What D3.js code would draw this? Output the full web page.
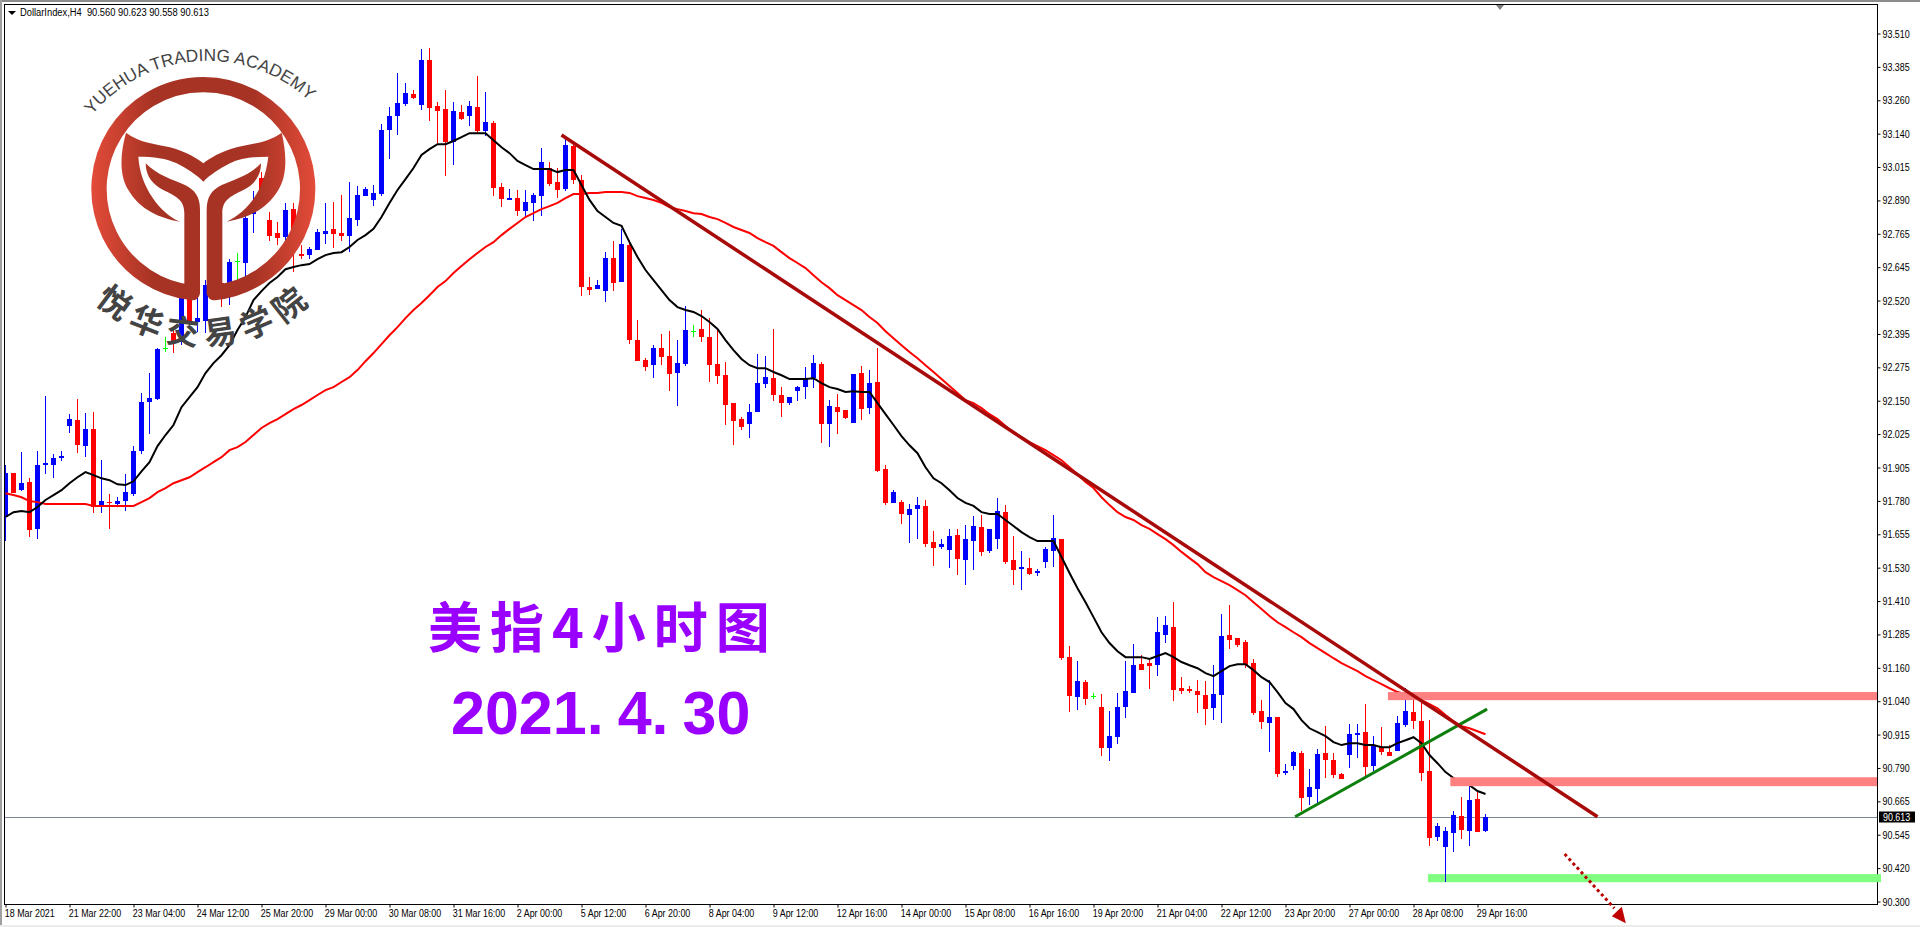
<!DOCTYPE html>
<html>
<head>
<meta charset="utf-8">
<title>DollarIndex H4</title>
<script src="https://cdn.jsdelivr.net/npm/d3@7/dist/d3.min.js"></script>
<style>
  html, body { margin: 0; padding: 0; background: #fff; overflow: hidden; }
  svg { display: block; }
  .axis text { font-family: "Liberation Sans", sans-serif; font-size: 11px; fill: #000; }
</style>
</head>
<body>
<div id="my_dataviz"></div>
<script>
var width = 1920, height = 927;

var chartTitle = "DollarIndex,H4  90.560 90.623 90.558 90.613";
var lastPrice = 90.613;

var priceLabels = ["93.510","93.385","93.260","93.140","93.015","92.890","92.765","92.645","92.520","92.395","92.275","92.150","92.025","91.905","91.780","91.655","91.530","91.410","91.285","91.160","91.040","90.915","90.790","90.665","90.545","90.420","90.300"];

var timeLabels = ["18 Mar 2021","21 Mar 22:00","23 Mar 04:00","24 Mar 12:00","25 Mar 20:00","29 Mar 00:00","30 Mar 08:00","31 Mar 16:00","2 Apr 00:00","5 Apr 12:00","6 Apr 20:00","8 Apr 04:00","9 Apr 12:00","12 Apr 16:00","14 Apr 00:00","15 Apr 08:00","16 Apr 16:00","19 Apr 20:00","21 Apr 04:00","22 Apr 12:00","23 Apr 20:00","27 Apr 00:00","28 Apr 08:00","29 Apr 16:00"];

var opens = [
91.722,91.884,91.821,91.851,91.678,91.914,91.914,91.939,92.058,92.080,
91.984,92.047,91.759,91.777,91.770,91.781,91.806,91.965,92.147,92.158,
92.346,92.402,92.369,92.531,92.443,92.446,92.602,92.587,92.580,92.668,
92.661,92.842,92.975,92.820,92.772,92.757,92.861,92.694,92.690,92.709,
92.768,92.787,92.772,92.761,92.820,92.908,92.894,92.916,93.152,93.204,
93.248,93.285,93.245,93.411,93.241,93.230,93.108,93.219,93.204,93.237,
93.149,93.178,92.942,92.894,92.901,92.853,92.883,92.908,93.012,92.960,
92.934,93.093,92.968,92.572,92.565,92.557,92.679,92.590,92.727,92.376,
92.302,92.283,92.346,92.317,92.254,92.287,92.409,92.417,92.387,92.287,
92.246,92.143,92.084,92.066,92.110,92.213,92.235,92.173,92.143,92.187,
92.202,92.235,92.287,92.066,92.128,92.117,92.069,92.254,92.125,92.221,
91.899,91.774,91.777,91.729,91.751,91.763,91.630,91.611,91.600,91.656,
91.563,91.633,91.685,91.596,91.640,91.740,91.563,91.530,91.534,91.515,
91.556,91.596,91.640,91.204,91.056,91.111,91.060,91.019,90.867,90.908,
91.019,91.071,91.178,91.182,91.174,91.285,91.315,91.089,91.086,91.078,
91.063,91.015,91.063,91.285,91.274,91.260,91.182,91.004,90.960,90.982,
90.775,90.801,90.849,90.686,90.716,90.849,90.823,90.771,90.841,90.915,
90.926,90.801,90.871,90.853,90.856,90.952,91.000,90.967,90.782,90.538,
90.501,90.553,90.616,90.560,90.679,90.560];

var highs = [
91.914,91.884,91.962,91.865,91.965,92.169,91.954,91.965,92.102,92.158,
92.106,92.110,91.932,91.806,91.795,91.880,91.984,92.180,92.254,92.346,
92.387,92.420,92.561,92.553,92.561,92.598,92.635,92.605,92.675,92.698,
92.857,92.927,92.997,92.849,92.812,92.883,92.883,92.727,92.720,92.787,
92.883,92.886,92.912,92.960,92.945,92.942,92.949,93.174,93.237,93.363,
93.326,93.300,93.452,93.456,93.256,93.300,93.256,93.245,93.260,93.352,
93.293,93.186,92.956,92.934,92.931,92.931,92.920,93.086,93.034,93.012,
93.119,93.104,92.986,92.609,92.598,92.701,92.742,92.787,92.746,92.450,
92.309,92.357,92.398,92.409,92.376,92.502,92.431,92.487,92.457,92.413,
92.295,92.143,92.091,92.139,92.324,92.317,92.417,92.202,92.165,92.206,
92.276,92.320,92.295,92.154,92.176,92.117,92.250,92.280,92.265,92.346,
91.914,91.821,91.785,91.770,91.795,91.785,91.670,91.640,91.678,91.678,
91.692,91.726,91.729,91.678,91.792,91.766,91.652,91.596,91.570,91.530,
91.611,91.729,91.640,91.245,91.189,91.119,91.071,91.067,91.004,91.071,
91.189,91.252,91.211,91.193,91.352,91.356,91.407,91.130,91.097,91.119,
91.115,91.174,91.363,91.396,91.274,91.267,91.197,91.045,91.119,90.982,
90.808,90.856,90.856,90.790,90.864,90.949,90.849,90.775,90.956,90.956,
91.030,90.912,90.945,90.879,90.986,91.089,91.045,91.052,90.971,90.590,
90.575,90.634,90.686,90.756,90.705,90.623];

var lows = [
91.633,91.810,91.817,91.648,91.640,91.880,91.865,91.928,92.032,91.958,
91.943,91.737,91.737,91.678,91.763,91.744,91.799,91.954,92.028,92.154,
92.331,92.328,92.357,92.424,92.406,92.402,92.542,92.498,92.505,92.598,
92.598,92.772,92.901,92.742,92.727,92.738,92.627,92.675,92.675,92.709,
92.731,92.716,92.742,92.701,92.798,92.908,92.872,92.908,93.045,93.134,
93.241,93.267,93.226,93.185,93.100,92.982,93.023,93.189,93.167,93.141,
93.130,92.908,92.868,92.894,92.834,92.831,92.816,92.834,92.945,92.901,
92.927,92.953,92.539,92.542,92.565,92.517,92.557,92.590,92.361,92.298,
92.261,92.235,92.283,92.187,92.132,92.280,92.387,92.369,92.221,92.213,
92.062,91.987,92.043,92.014,92.110,92.198,92.151,92.091,92.136,92.151,
92.158,92.198,91.995,91.980,92.028,92.084,92.069,92.080,92.102,91.888,
91.766,91.774,91.696,91.626,91.640,91.611,91.541,91.604,91.534,91.508,
91.471,91.526,91.578,91.589,91.604,91.548,91.471,91.452,91.508,91.504,
91.534,91.537,91.193,91.000,91.008,91.026,91.049,90.838,90.819,90.882,
90.978,91.071,91.156,91.086,91.134,91.256,91.041,91.067,91.071,90.997,
90.952,90.971,90.960,91.234,91.241,91.163,90.989,90.938,90.853,90.760,
90.768,90.786,90.635,90.657,90.664,90.757,90.757,90.753,90.793,90.830,
90.764,90.782,90.841,90.838,90.856,90.945,90.938,90.745,90.505,90.523,
90.372,90.483,90.531,90.505,90.557,90.558];

var closes = [
91.885,91.810,91.847,91.674,91.914,91.921,91.939,91.947,92.084,91.987,
92.047,91.759,91.781,91.774,91.781,91.814,91.965,92.147,92.162,92.343,
92.346,92.365,92.531,92.439,92.457,92.580,92.572,92.550,92.664,92.668,
92.827,92.857,92.923,92.761,92.753,92.857,92.735,92.687,92.713,92.775,
92.779,92.768,92.761,92.827,92.912,92.934,92.920,93.152,93.204,93.252,
93.289,93.270,93.411,93.234,93.223,93.108,93.223,93.193,93.241,93.149,
93.182,92.938,92.897,92.901,92.853,92.886,92.912,93.034,92.953,92.931,
93.097,92.968,92.572,92.561,92.580,92.679,92.587,92.731,92.376,92.298,
92.276,92.346,92.313,92.250,92.291,92.413,92.409,92.387,92.283,92.243,
92.136,92.077,92.054,92.110,92.217,92.239,92.173,92.143,92.165,92.202,
92.232,92.291,92.066,92.132,92.110,92.088,92.250,92.121,92.217,91.891,
91.774,91.814,91.733,91.751,91.766,91.622,91.608,91.622,91.652,91.567,
91.640,91.689,91.593,91.678,91.744,91.556,91.526,91.537,91.511,91.522,
91.604,91.644,91.200,91.060,91.115,91.049,91.060,90.867,90.912,91.019,
91.078,91.174,91.156,91.171,91.296,91.322,91.082,91.078,91.078,91.063,
91.012,91.067,91.282,91.267,91.248,91.174,90.997,90.964,90.982,90.771,
90.782,90.853,90.683,90.723,90.845,90.823,90.768,90.753,90.919,90.923,
90.797,90.879,90.853,90.838,90.960,91.004,90.967,90.775,90.534,90.579,
90.560,90.620,90.564,90.675,90.557,90.613];

var maFast = [
91.722,91.740,91.744,91.740,91.759,91.785,91.803,91.821,91.847,91.869,
91.888,91.877,91.865,91.858,91.843,91.840,91.854,91.891,91.925,91.984,
92.025,92.062,92.128,92.165,92.202,92.254,92.291,92.320,92.357,92.413,
92.461,92.524,92.557,92.587,92.609,92.638,92.646,92.653,92.657,92.675,
92.690,92.698,92.701,92.720,92.746,92.764,92.787,92.831,92.883,92.931,
92.971,93.012,93.060,93.082,93.100,93.100,93.112,93.126,93.141,93.141,
93.141,93.115,93.089,93.067,93.038,93.023,93.008,93.008,93.008,92.997,
93.005,93.005,92.949,92.894,92.853,92.831,92.809,92.798,92.738,92.683,
92.635,92.598,92.561,92.524,92.498,92.487,92.480,92.465,92.443,92.417,
92.376,92.339,92.306,92.283,92.272,92.272,92.258,92.246,92.232,92.232,
92.232,92.235,92.217,92.202,92.195,92.184,92.187,92.184,92.184,92.143,
92.102,92.062,92.021,91.987,91.958,91.906,91.865,91.847,91.821,91.792,
91.774,91.763,91.740,91.733,91.733,91.711,91.689,91.666,91.648,91.633,
91.633,91.633,91.574,91.515,91.459,91.407,91.352,91.296,91.256,91.226,
91.204,91.204,91.204,91.197,91.208,91.219,91.204,91.186,91.174,91.163,
91.145,91.134,91.152,91.171,91.178,91.178,91.156,91.130,91.112,91.075,
91.034,91.012,90.971,90.941,90.927,90.912,90.890,90.879,90.886,90.886,
90.879,90.879,90.871,90.871,90.886,90.897,90.908,90.886,90.842,90.812,
90.779,90.757,90.735,90.731,90.709,90.698];

var maSlow = [
91.810,91.803,91.795,91.781,91.777,91.770,91.770,91.770,91.770,91.770,
91.770,91.763,91.763,91.763,91.763,91.763,91.763,91.777,91.792,91.814,
91.829,91.847,91.858,91.869,91.888,91.906,91.925,91.943,91.969,91.980,
91.999,92.025,92.051,92.069,92.084,92.102,92.121,92.136,92.154,92.173,
92.191,92.202,92.221,92.239,92.265,92.298,92.328,92.361,92.394,92.424,
92.457,92.487,92.513,92.542,92.572,92.594,92.624,92.650,92.675,92.698,
92.720,92.738,92.764,92.787,92.809,92.831,92.845,92.860,92.871,92.883,
92.901,92.916,92.916,92.920,92.920,92.923,92.923,92.923,92.920,92.908,
92.901,92.894,92.883,92.868,92.860,92.853,92.845,92.842,92.831,92.823,
92.809,92.794,92.783,92.772,92.753,92.738,92.724,92.701,92.679,92.661,
92.642,92.616,92.590,92.568,92.542,92.524,92.505,92.487,92.461,92.439,
92.409,92.383,92.357,92.332,92.309,92.283,92.258,92.232,92.206,92.180,
92.154,92.143,92.125,92.102,92.084,92.058,92.032,92.017,91.999,91.984,
91.969,91.951,91.932,91.906,91.880,91.851,91.829,91.795,91.766,91.740,
91.722,91.711,91.692,91.678,91.659,91.640,91.618,91.593,91.570,91.548,
91.518,91.500,91.485,91.470,91.452,91.433,91.407,91.382,91.356,91.333,
91.315,91.296,91.278,91.256,91.237,91.219,91.200,91.182,91.167,91.152,
91.134,91.119,91.104,91.089,91.075,91.067,91.056,91.045,91.030,91.015,
90.990,90.967,90.949,90.941,90.930,90.919];

// hand drawn objects, in bar number and price
var downTrend = [[69.5, 93.134], [199.0, 90.614]];
var upTrend = [[161.2, 90.614], [185.2, 91.012]];
var arrowLine = [[194.9, 90.476], [201.1, 90.276]];
var resistZones = [[172.8, 91.075, 91.045], [180.6, 90.760, 90.727]];
var supportZones = [[177.8, 90.402, 90.372]];

var x = d3.scaleLinear().domain([0, 185]).range([5.5, 1485.5]);
var y = d3.scaleLinear().domain([93.51, 90.30]).range([33.3, 901.7]);
var py = function(v) { return Math.round(y(v)); };

var plotLeft = 4.5, plotTop = 4.5, plotRight = 1877.5, plotBottom = 904.5;
var textSqueeze = 0.81;   // narrow the labels, no narrow font here

var svg = d3.select("#my_dataviz").append("svg")
  .attr("width", width).attr("height", height);

var defs = svg.append("defs");
defs.append("clipPath").attr("id", "plot").append("rect")
  .attr("x", 5).attr("y", 5).attr("width", 1872).attr("height", 899);

var grad = defs.append("linearGradient").attr("id", "logoGrad")
  .attr("gradientUnits", "userSpaceOnUse")
  .attr("x1", 273).attr("x2", 947).attr("y1", 0).attr("y2", 0);
grad.append("stop").attr("offset", 0).attr("stop-color", "#e34b39");
grad.append("stop").attr("offset", 0.28).attr("stop-color", "#a63324");
grad.append("stop").attr("offset", 0.72).attr("stop-color", "#a63324");
grad.append("stop").attr("offset", 1).attr("stop-color", "#e34b39");

// window edges
svg.append("rect").attr("width", width).attr("height", 2).attr("fill", "#8c8c8c");
svg.append("rect").attr("width", 2).attr("height", height).attr("fill", "#a0a0a0");
svg.append("rect").attr("y", 925).attr("width", width).attr("height", 2).attr("fill", "#ececec");

var plot = svg.append("g").attr("clip-path", "url(#plot)");

// price line
plot.append("line")
  .attr("x1", plotLeft).attr("x2", plotRight)
  .attr("y1", py(lastPrice) + 0.5).attr("y2", py(lastPrice) + 0.5)
  .attr("stroke", "#778899");

// candles
var bars = d3.range(closes.length);
function barColor(i) {
  if (opens[i] === closes[i]) return "#00ff00";
  return closes[i] > opens[i] ? "#0000ff" : "#ff0000";
}

var candles = plot.append("g").attr("shape-rendering", "crispEdges");
candles.selectAll("line.wick").data(bars).enter().append("line")
  .attr("class", "wick")
  .attr("x1", function(i) { return x(i); })
  .attr("x2", function(i) { return x(i); })
  .attr("y1", function(i) { return py(highs[i]); })
  .attr("y2", function(i) { return py(lows[i]); })
  .attr("stroke", barColor);
candles.selectAll("rect.body").data(bars).enter().append("rect")
  .attr("class", "body")
  .attr("x", function(i) { return x(i) - 2.5; })
  .attr("width", 5)
  .attr("y", function(i) { return py(Math.max(opens[i], closes[i])); })
  .attr("height", function(i) {
    return Math.max(1, py(Math.min(opens[i], closes[i])) - py(Math.max(opens[i], closes[i])));
  })
  .attr("fill", barColor);

// moving averages
var maLine = d3.line().x(function(d, i) { return x(i); }).y(function(d) { return y(d); });
plot.append("path").datum(maSlow)
  .attr("d", maLine).attr("fill", "none").attr("stroke", "#ff0000").attr("stroke-width", 2);
plot.append("path").datum(maFast)
  .attr("d", maLine).attr("fill", "none").attr("stroke", "#000").attr("stroke-width", 2);

// zones
function drawZone(z, color, right) {
  plot.append("rect")
    .attr("x", x(z[0])).attr("width", right - x(z[0]))
    .attr("y", y(z[1])).attr("height", y(z[2]) - y(z[1]))
    .attr("fill", color);
}
resistZones.forEach(function(z) { drawZone(z, "#ff8080", plotRight); });

// frame and axes
svg.append("rect")
  .attr("x", plotLeft).attr("y", plotTop)
  .attr("width", plotRight - plotLeft).attr("height", plotBottom - plotTop)
  .attr("fill", "none").attr("stroke", "#000").attr("shape-rendering", "crispEdges");

function squeezeLabels(g, dx) {
  g.selectAll("text").each(function() {
    var t = d3.select(this);
    t.attr("text-anchor", "start")
      .attr("transform", "scale(" + textSqueeze + ",1)")
      .attr("x", (+t.attr("x") || 0) / textSqueeze + dx);
  });
}

var priceAxis = d3.scalePoint().domain(priceLabels).range([33.5, 901.5]);
svg.append("g").attr("class", "axis")
  .attr("transform", "translate(" + plotRight + ",0)")
  .call(d3.axisRight(priceAxis).tickSize(3).tickPadding(2))
  .call(function(g) {
    g.select(".domain").remove();
    squeezeLabels(g, 0);
  });

var timeBars = timeLabels.map(function(d, i) { return i * 8; });
svg.append("g").attr("class", "axis")
  .attr("transform", "translate(0," + plotBottom + ")")
  .call(d3.axisBottom(x).tickValues(timeBars).tickSize(3).tickPadding(2)
    .tickFormat(function(d) { return timeLabels[d / 8]; }))
  .call(function(g) {
    g.select(".domain").remove();
    squeezeLabels(g, -1.5);
  });

// support zone sticks out over the price scale a little
supportZones.forEach(function(z) {
  svg.append("rect")
    .attr("x", x(z[0])).attr("width", 1881 - x(z[0]))
    .attr("y", y(z[1])).attr("height", y(z[2]) - y(z[1]))
    .attr("fill", "#80ff80");
});
// the low wick of bar 180 stays visible on the zone
svg.append("line")
  .attr("x1", x(180)).attr("x2", x(180))
  .attr("y1", py(90.402)).attr("y2", py(lows[180]))
  .attr("stroke", "#0000ff").attr("shape-rendering", "crispEdges");

// last price tag
var tag = svg.append("g").attr("transform", "translate(1879," + py(lastPrice) + ")");
tag.append("rect").attr("y", -5.5).attr("width", 36).attr("height", 11).attr("fill", "#000");
tag.append("text").attr("x", 4 / textSqueeze).attr("y", 4).attr("transform", "scale(" + textSqueeze + ",1)")
  .attr("font-family", "'Liberation Sans',sans-serif")
  .attr("font-size", 11).attr("fill", "#fff").text(lastPrice.toFixed(3));

// trend lines and arrow
function drawTrend(pts, color, w) {
  svg.append("line")
    .attr("x1", x(pts[0][0])).attr("y1", y(pts[0][1]))
    .attr("x2", x(pts[1][0])).attr("y2", y(pts[1][1]))
    .attr("stroke", color).attr("stroke-width", w);
}
drawTrend(upTrend, "#0d7f0d", 3);
drawTrend(downTrend, "#a80a0a", 3.5);

svg.append("line")
  .attr("x1", x(arrowLine[0][0])).attr("y1", y(arrowLine[0][1]))
  .attr("x2", x(arrowLine[1][0])).attr("y2", y(arrowLine[1][1]))
  .attr("stroke", "#b80000").attr("stroke-width", 3).attr("stroke-dasharray", "3 3");
var tip = [x(arrowLine[1][0]) + 11.5, y(arrowLine[1][1]) + 15];
svg.append("path")
  .attr("d", "M" + tip[0] + "," + tip[1] + "l-14,-7l10,-9.5z")
  .attr("fill", "#c00000");

// chart header
svg.append("path").attr("d", "M8,11h8l-4,4z").attr("fill", "#000");
svg.append("text").attr("x", 20 / 0.85).attr("y", 16).attr("transform", "scale(0.85,1)")
  .attr("xml:space", "preserve")
  .attr("font-family", "'Liberation Sans',sans-serif")
  .attr("font-size", 11).attr("fill", "#000").text(chartTitle);

// chart shift marker
svg.append("path").attr("d", "M1496,5h8l-4,5z").attr("fill", "#808080");

// logo, drawn in its own coordinates at 3x
var logo = svg.append("g").attr("transform", "scale(0.33333)");
logo.append("path")
  .attr("d", "M577,878A313,313 0 1 1 643,878")
  .attr("fill", "none").attr("stroke", "url(#logoGrad)")
  .attr("stroke-width", 46).attr("stroke-linecap", "round");
logo.append("path").attr("fill", "url(#logoGrad)")
  .attr("d", "M378,398C420,430 470,432 510,442C560,455 590,475 610,490C630,475 660,455 710,442C750,432 800,430 845,398C862,470 860,530 835,570C800,630 740,655 680,665C730,640 790,590 805,470C760,470 720,475 690,490C660,505 630,525 610,545C590,525 560,505 530,490C500,475 460,470 415,470C420,560 480,640 540,665C480,655 420,630 385,570C360,530 358,470 378,398Z");
logo.append("path").attr("fill", "url(#logoGrad)")
  .attr("d", "M437,490C470,525 520,540 555,555C585,570 600,590 600,630L600,880L553,880L553,640C553,600 530,590 490,570C460,555 437,530 437,490Z");
logo.append("path").attr("fill", "url(#logoGrad)")
  .attr("d", "M783,490C750,525 700,540 665,555C635,570 620,590 620,630L620,880L667,880L667,640C667,600 690,590 730,570C760,555 783,530 783,490Z");

defs.append("path").attr("id", "logoTop").attr("d", "M276,345A450,450 0 0 1 968,345");
defs.append("path").attr("id", "logoBottom").attr("d", "M285,904A468,468 0 0 0 935,904");

logo.append("text")
  .attr("font-family", "'Liberation Sans',sans-serif").attr("font-size", 52).attr("fill", "#444")
  .append("textPath").attr("href", "#logoTop").attr("startOffset", 0)
  .text("YUEHUA TRADING ACADEMY");
logo.append("text")
  .attr("font-family", "'Noto Sans CJK SC',sans-serif").attr("font-size", 98).attr("font-weight", 700)
  .attr("fill", "#444").attr("letter-spacing", 24)
  .append("textPath").attr("href", "#logoBottom").attr("startOffset", 0)
  .text("悦华交易学院");

// big purple captions
svg.append("text").attr("x", 428).attr("y", 648)
  .attr("font-family", "'Noto Sans CJK SC',sans-serif").attr("font-size", 54).attr("font-weight", 700)
  .attr("letter-spacing", 8).attr("fill", "#9900ff").text("美指4小时图");
var dateText = svg.append("text").attr("x", 451).attr("y", 734)
  .attr("font-family", "'Liberation Sans',sans-serif").attr("font-size", 61).attr("font-weight", 700)
  .attr("fill", "#9900ff");
dateText.append("tspan").text("2021.");
dateText.append("tspan").attr("dx", 14).text("4.");
dateText.append("tspan").attr("dx", 14).text("30");
</script>
</body>
</html>
